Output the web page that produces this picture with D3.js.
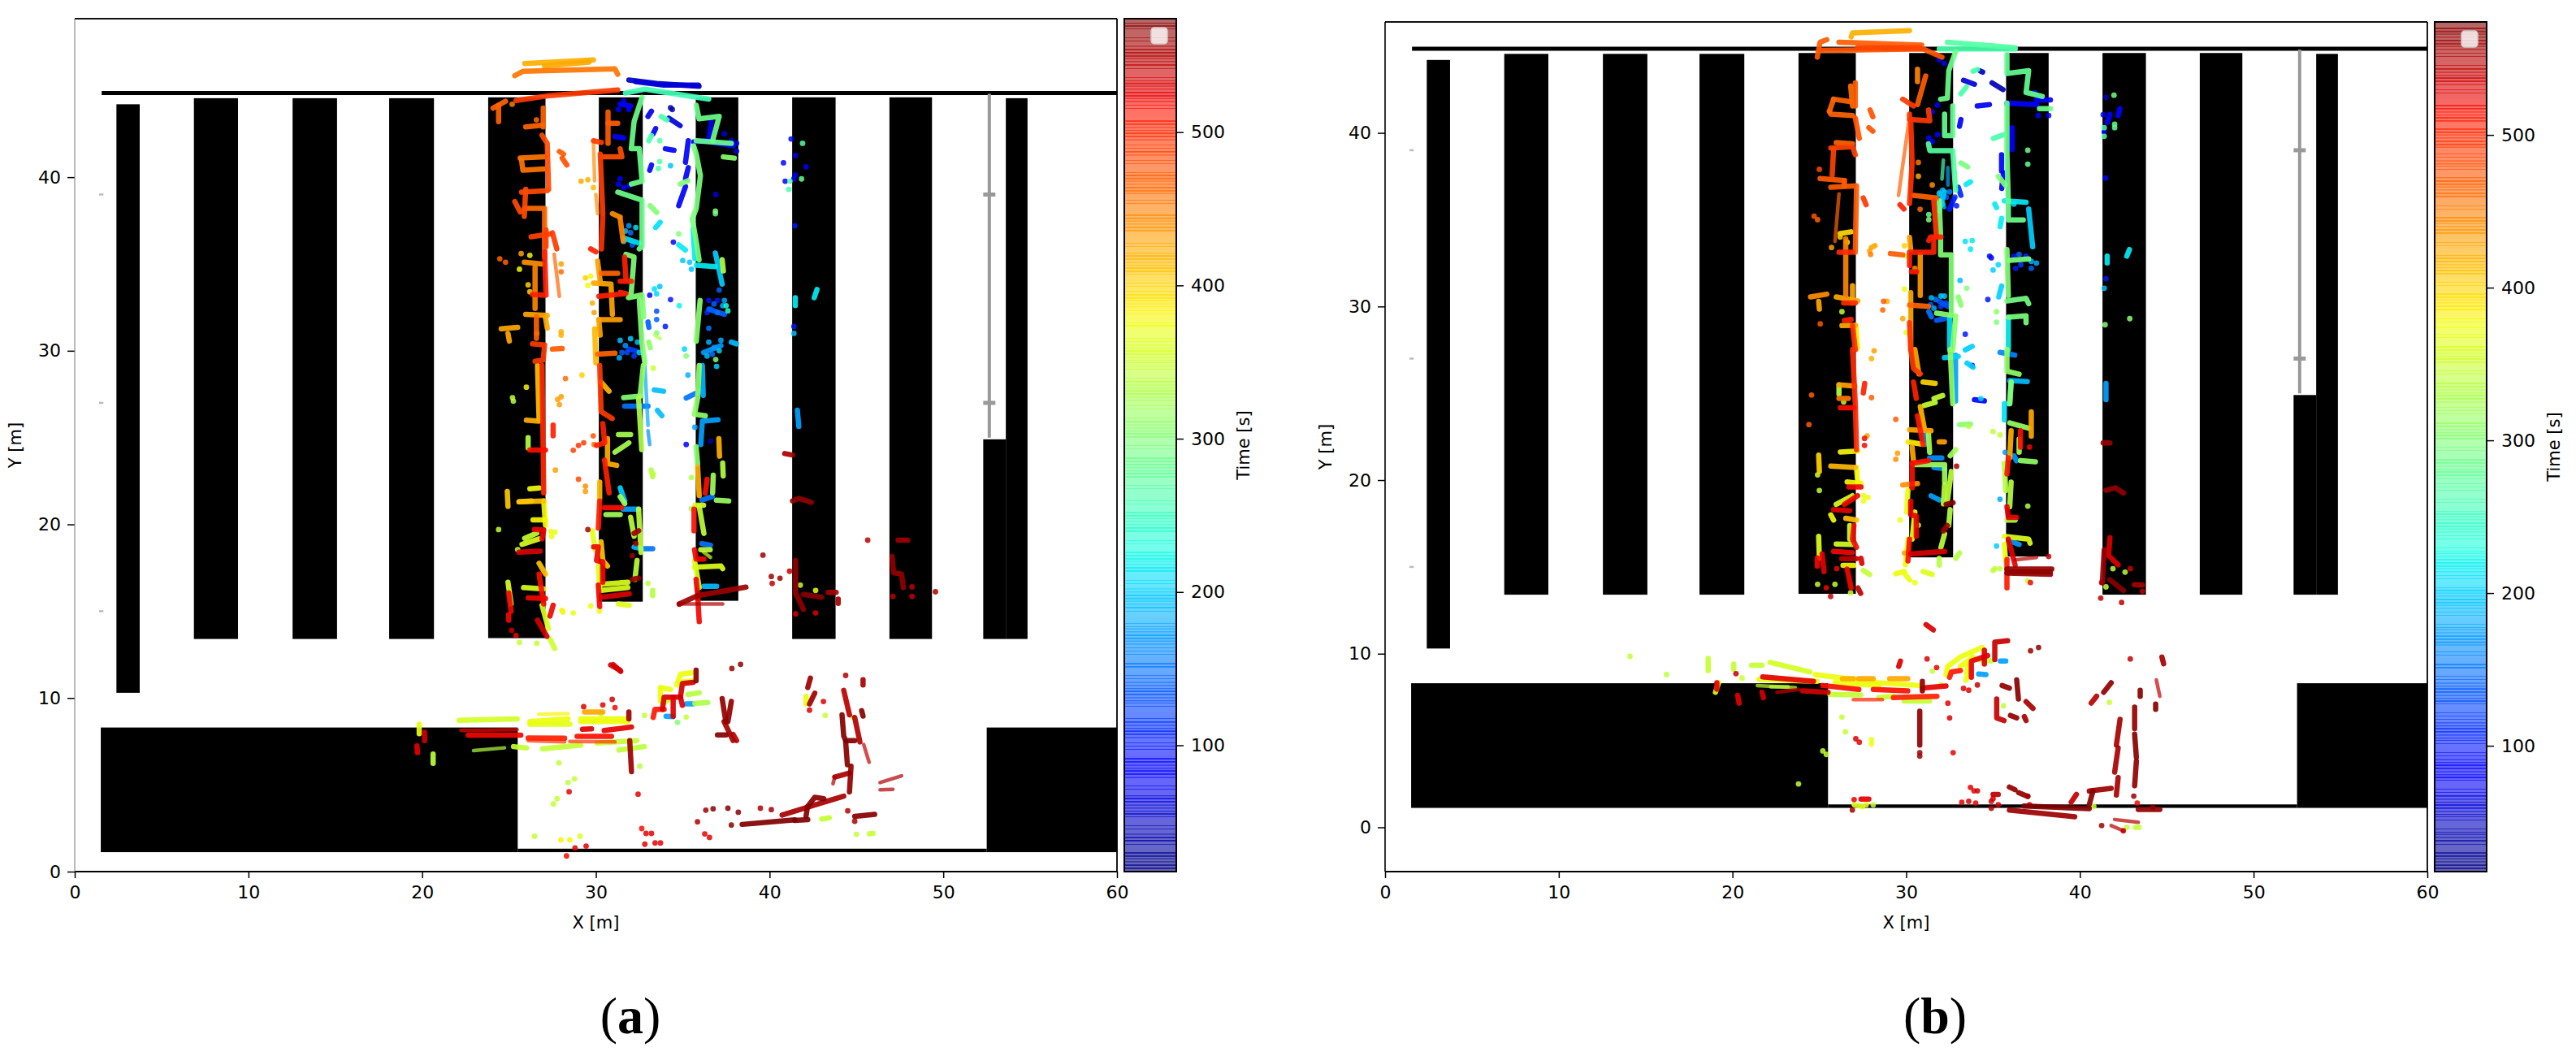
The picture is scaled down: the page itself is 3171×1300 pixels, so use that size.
<!DOCTYPE html>
<html>
<head>
<meta charset="utf-8">
<script src="https://cdn.jsdelivr.net/npm/d3@7"></script>
<style>
  body { margin: 0; background: #fff; }
  text { font-family: "DejaVu Sans", sans-serif; fill: #000; }
</style>
</head>
<body>
<div id="chart"></div>
<script>
(function () {

    const xTicks = [0, 10, 20, 30, 40, 50, 60]
    const yTicks = [0, 10, 20, 30, 40]
    const timeTicks = [100, 200, 300, 400, 500]
    const timeDomain = [17.6, 574]

    // x0, x1, y0, y1 in metres
    const shelves = [
        [2.4, 3.74, 10.3, 44.2], [6.86, 9.4, 13.4, 44.55], [12.54, 15.1, 13.4, 44.55],
        [18.1, 20.68, 13.4, 44.55], [23.8, 27.1, 13.45, 44.6], [30.17, 32.7, 15.55, 44.6],
        [35.75, 38.2, 15.6, 44.6], [41.3, 43.8, 13.4, 44.6], [46.9, 49.35, 13.4, 44.6],
        [53.6, 54.85, 13.4, 44.55], [52.3, 53.6, 13.4, 24.9],
        [1.5, 25.5, 1.12, 8.3], [52.5, 60, 1.12, 8.3], [25.5, 52.5, 1.12, 1.32]
    ]
    const topWall = [1.55, 60, 44.85]
    const poleX = 52.65
    const poleY = [44.8, 39, 27, 25]
    const wallMarks = [39, 27, 15]

    // colorbar line clusters [from, to] in seconds, one line every 2 s
    const barLinesA = [[569, 571], [544, 557], [520, 533], [495, 507], [485, 487], [460, 472], [436, 446], [409, 422], [386, 396], [374, 374], [351, 361], [325, 337], [301, 311], [275, 288], [240, 252], [214, 226], [190, 203], [166, 177], [151, 153], [129, 142], [105, 116], [79, 92], [55, 68], [38, 42], [20, 31]]
    const barLinesB = [[556, 570], [533, 543], [509, 520], [492, 505], [481, 483], [460, 472], [436, 446], [409, 422], [386, 396], [374, 374], [351, 361], [325, 337], [301, 311], [275, 288], [240, 252], [214, 226], [190, 203], [166, 177], [151, 153], [129, 142], [105, 116], [79, 92], [55, 68], [38, 42], [20, 31]]

    // tracks: [time, x1, y1, x2, y2, ...] in metres
    const tracksA = [
        [50, 31.9, 45.6, 33.5, 45.4, 35.94, 45.23], [60, 32.3, 45.5, 33.9, 45.3, 35.9, 45.3],
        [72, 36.64, 43.2, 36.49, 42.1, 35.63, 42.03], [78, 35.32, 42.1, 35.16, 40.86], [78, 35.32, 40.55, 35.16, 39.92], [78, 35.16, 39.46, 34.77, 38.36],
        [70, 33, 43.5, 33.2, 43.8], [60, 34.2, 43.4, 34.85, 42.97], [75, 33.44, 42.8, 33.3, 42.5], [75, 34, 41.64, 34.5, 41.55], [90, 33.2, 40.7, 33.1, 40.4],
        [85, 31.1, 42.34, 31.6, 42.26], [85, 31.4, 44.2, 32, 44.1], [90, 36.2, 42.1, 37.9, 41.8],
        [140, 33, 31.66, 33.05, 31.35], [120, 31.9, 30.1, 32.3, 30], [140, 36.5, 32.4, 37.4, 32.1], [190, 37.8, 30.5, 38.1, 30.4], [170, 36.2, 29.9, 37.2, 30.3],
        [256, 31.7, 44.84, 32.82, 45.07, 36.5, 44.5],
        [285, 32.66, 44.6, 32.2, 43.2, 32.04, 41.64, 32.5, 41.64, 32.66, 39.77, 32.04, 39.6],
        [285, 31.26, 39.14, 32.66, 38.68, 32.66, 36.03, 32.5, 35.87], [300, 31.73, 35.56, 32.2, 35.4, 32.04, 33.37, 31.88, 33.06, 32.66, 33.22, 32.75, 31.97], [300, 32.5, 32.9, 32.66, 30.4, 32.82, 29.3],
        [285, 35.78, 44.14, 35.94, 43.36, 37.1, 43.5, 36.72, 42.1], [285, 37.8, 41.95, 35.78, 42.1], [295, 35.63, 41.8, 35.78, 41.33, 36.02, 40.08, 35.78, 38.2, 35.55, 37.6, 35.78, 36.3, 35.94, 35.24],
        [215, 35.78, 34.93, 36.88, 34.85], [200, 36.88, 35.63, 37.27, 33.84], [305, 36, 32.9, 35.78, 30.56], [215, 35.6, 37, 35.7, 35.3], [210, 31.57, 36.5, 32.5, 36.2],
        [262, 33.76, 43.5, 34.1, 43.3], [262, 33.2, 42.4, 33.05, 42.1], [305, 37.34, 41.17, 37.97, 41.1], [300, 34.85, 39.6, 35.3, 39.8], [300, 33.13, 38.36, 33.5, 37.97], [210, 33.44, 37.1, 33.7, 37.4], [215, 34.77, 36.1, 35.16, 35.8], [310, 33.05, 30.5, 33.13, 30.17], [335, 37.27, 35.24, 37.34, 34.6],
        [215, 41.48, 33.06, 41.48, 32.6], [215, 42.73, 33.53, 42.57, 33.06],
        [175, 41.6, 26.58, 41.68, 25.64], [185, 36.13, 29.15, 36.18, 27.43], [150, 35.2, 27.28, 36, 27.67], [175, 37.03, 26.03, 36.13, 25.95, 36.04, 24.6], [190, 33.36, 27.75, 33.9, 27.67], [190, 33.54, 26.57, 33.8, 26.26],
        [150, 31.66, 26.81, 33, 26.81], [200, 31.4, 22.1, 31.66, 21.35], [175, 31.57, 20.88, 32.46, 20.88], [185, 32.2, 18.7, 32.64, 18.6], [150, 32.64, 18.6, 33.27, 18.6], [190, 36.22, 16.44, 36.95, 16.44], [150, 36.1, 18.9, 36.6, 18.8], [150, 36.1, 21.4, 36.7, 21.6],
        [310, 32.73, 29.15, 32.55, 27.43], [330, 32.46, 27.28, 32.64, 24.31], [300, 31.6, 27.3, 32.6, 27.4], [310, 35.95, 29.15, 35.86, 27.28, 35.68, 26.34, 36.3, 26.26], [305, 35.77, 24.47, 35.86, 23.46], [320, 36.76, 22.83, 36.72, 21.82], [315, 36.94, 21.4, 37.65, 21.35], [335, 37.3, 23.53, 37.33, 22.79], [325, 31.3, 25.17, 32, 25.17], [325, 31.1, 24.16, 31.9, 24.7], [320, 30.58, 20.57, 31.4, 20.57], [320, 31.4, 21.6, 31.66, 21.2], [335, 33.18, 23.14, 33.27, 22.75], [340, 32.46, 20.88, 32.6, 18.39], [340, 32, 20.41, 32.2, 19.32], [340, 32.37, 17.92, 32.25, 16.83], [340, 35.95, 21.04, 36.22, 19.48], [340, 36.04, 18.54, 36.58, 18.54], [335, 33.27, 16.2, 33.27, 15.9], [355, 36.2, 21.1, 35.7, 21.1],
        [335, 26.1, 25, 26.1, 24.4], [345, 25.9, 19.2, 26.6, 19.5],
        [360, 25.75, 18.85, 26.73, 19.17], [360, 25.84, 16.36, 27, 16.28], [360, 24.94, 16.67, 25.12, 15.42], [358, 26.9, 15.34, 27.27, 14], [350, 27.36, 13.4, 27.63, 12.85], [360, 30.3, 16.55, 31.84, 16.67], [360, 30.3, 16.2, 31.84, 16.36], [362, 35.68, 17.53, 37.2, 17.6, 37.3, 17.45], [362, 35.68, 17.92, 35.95, 16.36], [365, 29.8, 19.63, 29.96, 18.54], [365, 30.14, 17.6, 30.22, 16.36], [365, 31.3, 15.42, 31.92, 15.34],
        [375, 26.2, 22.05, 26.73, 22.1], [378, 27, 21.35, 27.1, 19.95], [378, 26.38, 20.26, 27.1, 20.26], [385, 25.6, 21.3, 26.3, 21.35],
        [410, 26.64, 29.15, 26.73, 26.03], [420, 26, 26, 26.73, 25.95], [410, 25.57, 21.3, 27, 21.35], [405, 24.9, 21.9, 24.94, 21.04], [420, 30.67, 24.94, 30.67, 23.5, 31.2, 23.4], [415, 30.22, 22.44, 30.22, 21.5], [405, 30.3, 19, 30.4, 17.92, 30.67, 17.6], [415, 30.3, 28.2, 30.76, 27.67], [420, 37.08, 24.94, 37.12, 23.93], [420, 35.86, 23.3, 35.95, 21.66], [410, 26.73, 17.76, 27.1, 17.14],
        [420, 25.9, 46.55, 29.86, 46.76], [425, 27.05, 46.4, 29.6, 46.63], [425, 25.96, 32.1, 27.2, 32.04], [425, 24.55, 31.27, 25.5, 31.35], [425, 24.94, 31, 25.02, 30.56], [425, 27.1, 31.9, 27.2, 31.3], [415, 29.93, 31.27, 30, 29.3], [430, 30.1, 35.17, 30.25, 34], [425, 29.86, 33.9, 30.87, 33.84, 30.95, 32.1], [430, 30.17, 31.8, 31.4, 31.8], [430, 30.17, 31.8, 30.25, 30.9], [440, 25.88, 35.1, 26.9, 35], [445, 26.5, 34.8, 26.5, 32.44], [445, 31.4, 37.6, 31.57, 36.34], [440, 30.95, 37.9, 31.4, 37.7],
        [455, 25.33, 45.85, 25.8, 46.1, 31.1, 46.24, 31.26, 45.93], [455, 25.64, 41.1, 27.05, 41.17], [455, 25.72, 41, 25.8, 40.4, 27.05, 40.47], [460, 25.88, 38.2, 27.05, 38.2, 27.05, 35.4], [465, 24.08, 43.98, 24.8, 44.37], [465, 24.4, 44.14, 24.4, 43.2], [465, 26.58, 31.97, 26.58, 30.72], [465, 26.97, 43.98, 26.97, 42.9], [465, 25.96, 42.9, 26.97, 43], [465, 30.32, 34.46, 31.26, 34.46], [465, 30.1, 29.8, 31.1, 29.86], [470, 27.9, 41.48, 28.14, 41.33], [475, 28.06, 41.1, 28.33, 40.7], [470, 30.7, 43.75, 30.7, 41.95], [470, 30.7, 43.1, 31.26, 43.1], [470, 27.5, 30.1, 28.06, 30.13],
        [480, 26.9, 42.42, 27.2, 41.95, 27.28, 39.3], [480, 25.72, 39.14, 27.2, 39.22], [480, 25.96, 39.3, 25.88, 37.74], [480, 25.33, 38.6, 25.64, 38], [478, 30.4, 41.17, 31.5, 41.17, 31.4, 41.64], [485, 26.27, 36.57, 27.36, 36.73], [488, 27.13, 36.96, 27.13, 36], [488, 29.86, 42.1, 30.32, 42], [490, 27.5, 36.8, 27.75, 35.87], [490, 25.4, 44.42, 27.2, 44.68, 31.26, 45.02], [488, 30.25, 41.33, 30.4, 37.9], [490, 26.35, 30.4, 27.05, 30.33, 26.97, 29.47, 26.5, 29.4], [490, 30.22, 29.15, 30.3, 26.5, 30.94, 26.1], [495, 30.4, 37.74, 30.32, 35.87], [505, 27.05, 35.7, 27.13, 33.2, 26.35, 33.25], [505, 31.65, 35.4, 31.73, 34.15], [505, 31.4, 34, 32.04, 34], [505, 31.4, 33.37, 31.73, 33.3, 30.17, 33.14], [505, 29.7, 35.87, 30, 35.7], [505, 30.4, 25.8, 30.5, 24.78], [505, 30.04, 24.55, 30.5, 24.7], [505, 27.54, 25.72, 27.54, 25.1], [500, 26.9, 29.15, 27, 21.82], [505, 30.5, 23.7, 30.76, 21.82], [505, 30.22, 21.35, 30.14, 19.79],
        [515, 30.5, 20.96, 31.48, 20.96], [515, 26.2, 24.28, 27.1, 24.28], [515, 36.4, 22.6, 36.3, 21.8], [515, 26.73, 17.14, 27, 15.42], [515, 35.65, 20.88, 35.65, 19.63], [520, 26.46, 19.71, 27, 19.67, 26.9, 19.17], [520, 26.1, 15.77, 27.1, 15.73], [520, 24.98, 16.05, 25.12, 14.99], [520, 24.98, 14.8, 24.98, 14.48], [520, 27.54, 15.34, 27.36, 14.72], [520, 29.87, 18.7, 30.14, 18.7, 30.04, 17.92, 30.4, 17.84, 30.4, 16.67], [520, 30.14, 16.5, 30.22, 15.27], [520, 35.68, 18.54, 35.77, 18, 36.22, 18], [520, 35.77, 16.83, 35.86, 15.9, 35.95, 14.4], [530, 30.3, 15.8, 31.92, 16], [530, 25.57, 18.4, 26.8, 18.46], [535, 26.64, 14.48, 27.18, 13.55], [535, 30.85, 11.9, 31.4, 11.6],
        [560, 34.8, 15.42, 35.86, 15.9, 38.64, 16.39], [565, 32.1, 16.83, 32.46, 16.9], [560, 32.46, 19.63, 32.2, 19.48], [565, 41.5, 17.92, 41.5, 16.05, 41.95, 15.11], [565, 41.32, 21.35, 41.68, 21.5, 42.4, 21.27], [570, 41.95, 15.97, 43, 15.8], [555, 43.38, 16.08, 43.83, 16.08], [555, 43.95, 15.7, 43.95, 15.45], [565, 47.05, 18.15, 47.14, 17.22, 47.6, 17.14, 47.7, 16.36], [560, 47.4, 19.09, 47.95, 19.09], [555, 40.87, 24.08, 41.32, 24],
        // lower aisle
        [355, 22.13, 8.72, 25.47, 8.8], [372, 26.2, 8.64, 28.4, 8.8], [366, 26.2, 8.49, 28.5, 8.49], [372, 29.13, 8.8, 31.74, 8.8], [372, 29.13, 8.64, 31.84, 8.64], [425, 29.34, 9.19, 30.4, 9.19], [368, 19.83, 8.49, 19.83, 7.94],
        [520, 22.65, 7.86, 25.68, 7.86], [535, 20.14, 8.02, 20.14, 7.55], [525, 19.7, 7.24, 19.73, 6.85], [505, 26.1, 7.7, 28.2, 7.68], [515, 28.92, 7.79, 30.9, 7.79], [530, 29.23, 8.2, 29.75, 8.22], [525, 30.48, 8.13, 32.05, 8.33],
        [345, 25.26, 7.2, 26, 7.12], [345, 26.93, 7.08, 29.13, 7.29], [345, 30.07, 7.4, 32.36, 7.55], [340, 31.32, 7, 32.78, 7.2], [340, 20.63, 6.77, 20.63, 6.23],
        [560, 31.95, 7.55, 32.05, 5.76], [560, 31.9, 9.19, 31.9, 8.8], [530, 31, 11.92, 31.43, 11.53], [510, 33.3, 8.88, 33.4, 9.35, 33.93, 9.35], [530, 33.83, 9.35, 33.93, 10.05, 34.87, 10.05, 34.98, 9.58], [530, 34.45, 10.05, 34.45, 8.95], [535, 34.87, 10.05, 34.98, 10.83, 35.6, 10.9], [570, 35.77, 11.6, 35.77, 11],
        [372, 34.66, 10.75, 34.87, 11.37, 35.5, 11.45], [372, 34.8, 10.9, 35.6, 11], [372, 33.72, 10.6, 33.72, 9.83], [372, 33.72, 10.6, 34.3, 10.5], [345, 33.9, 9.7, 34.2, 9.9], [335, 35.3, 10.2, 35.95, 10.3], [330, 35.7, 9.69, 36.44, 9.74], [175, 35.2, 9.66, 35.6, 9.66], [175, 34.04, 8.95, 34.45, 8.93],
        [565, 37.27, 9.97, 37.48, 8.64], [565, 37.8, 9.81, 37.6, 8.64], [555, 37.38, 8.64, 37.9, 7.55], [570, 37, 7.87, 37.5, 7.87], [545, 37.9, 7.9, 38.1, 7.55], [560, 42.6, 10.28, 42.3, 9.66], [560, 42.35, 11.14, 42.2, 10.6], [372, 42.1, 10.1, 42.1, 9.66], [555, 45.38, 11.06, 45.38, 10.75], [570, 45.3, 9.27, 45.38, 8.96],
        [545, 44.27, 10.44, 44.6, 9.03], [574, 44.17, 9.03, 44.27, 7.8, 44.38, 7.55, 44.9, 7.55], [570, 44.38, 7.47, 44.48, 6.15], [550, 44.9, 8.88, 45.2, 7.47], [565, 44.69, 6.07, 44.6, 4.59], [555, 43.75, 5.45, 44.6, 5.68], [555, 44.27, 4.35, 40.72, 3.26], [570, 42.18, 3.73, 42.6, 4.28, 43.12, 4.2], [570, 42.1, 3.2, 42.18, 3.73], [574, 38.42, 2.72, 41.45, 2.98], [574, 41.45, 2.95, 42.2, 3], [345, 43, 3.03, 43.44, 3.1], [570, 44.9, 3.18, 46.05, 3.3]
    ]
    // thin, fainter runs of laser hits
    const thinA = [
        [180, 32.82, 29.15, 33, 25.7], [165, 33, 25.4, 33.1, 24.6], [465, 27.6, 35.56, 27.9, 33.14], [440, 29.86, 42.1, 29.93, 39.8], [440, 30, 39, 30.1, 37.9],
        [550, 34.98, 15.42, 37.3, 15.42], [540, 45.42, 7.32, 45.73, 6.3], [550, 46.36, 5.13, 47.6, 5.52], [550, 46.36, 4.71, 47.1, 4.74], [550, 43.65, 5.06, 43.75, 5.45], [380, 26.7, 9.07, 28.4, 9.1],
        [520, 22.23, 8.13, 25.47, 8.18], [495, 26.1, 7.55, 28.2, 7.47], [495, 28.5, 7.5, 31.1, 7.47], [335, 22.96, 6.97, 24.74, 7.13], [350, 36.2, 18.4, 36.6, 18.1], [330, 33.4, 30.9, 33.7, 30.7]
    ]
    // [time, x, y]
    const dotsA = [
        [40, 34.3, 44], [45, 34.4, 43.9], [60, 37.4, 42.5], [70, 37.8, 42.1], [80, 38.1, 41.95], [70, 38.1, 41.5], [60, 36.9, 39], [90, 33.1, 33.2], [100, 34, 31.4], [140, 37.1, 33.5],
        [270, 33.68, 42.1], [270, 33.68, 40.9], [262, 33.6, 40.5], [195, 34.3, 40.66], [300, 34.77, 36.73], [90, 34.46, 36.26], [195, 35, 35.2], [195, 35.4, 35.1], [195, 35.5, 34.7], [210, 33.37, 33.56], [195, 33.68, 33.7], [205, 33.5, 33.28], [100, 34.3, 32.95], [220, 34.8, 32.6], [130, 33.5, 32.28], [140, 33.5, 31.8], [300, 33.5, 31.03], [300, 35.2, 29.7], [205, 35.1, 30.1], [305, 36.88, 38.05], [280, 36.88, 37.9], [150, 36.5, 31.3], [230, 37.5, 32.6], [240, 37.6, 32.3],
        [90, 41.24, 42.2], [270, 41.9, 41.95], [75, 41.48, 41.25], [90, 40.8, 40.83], [75, 42.1, 40.6], [75, 41.48, 40.13], [75, 41.4, 39.9], [85, 40.9, 39.77], [280, 41.84, 39.9], [270, 41.17, 39.77], [262, 41.1, 39.3], [100, 41.45, 37.2], [100, 41.4, 31.4], [190, 41.4, 31],
        [465, 24.47, 35.3], [465, 24.8, 35.1], [375, 25.6, 34.7], [380, 26.2, 35.5], [400, 26.1, 33.8], [400, 26.2, 33.4], [430, 25.7, 35.6], [440, 26.6, 31], [450, 25.18, 44.2], [460, 26.58, 43.3], [430, 28, 35], [460, 28, 34.55], [425, 29.15, 39.77], [420, 29.54, 39.85], [415, 29.86, 39.4], [400, 29.4, 34.2], [372, 29.54, 33.76], [378, 29.7, 34.3], [420, 29.8, 32.75], [430, 29.9, 32.2], [420, 28, 31.1], [420, 28, 30.9],
        [345, 25.2, 27.3], [380, 26, 27.9], [335, 25.25, 27.1], [460, 28.25, 28.4], [400, 29.2, 28.6], [430, 27.8, 27.2], [430, 28, 27.35], [430, 27.9, 26.9], [430, 27.67, 23.13], [460, 29.9, 24.6], [485, 28.7, 24.27], [495, 29, 24.55], [490, 29.3, 24.7], [475, 29.85, 25.1], [480, 29, 22.6], [440, 29.4, 22.2], [430, 29.4, 21.9], [345, 24.4, 19.7], [370, 27.4, 19.6], [370, 27.65, 19.55], [370, 27.45, 19.3], [555, 29.54, 19.7], [345, 25.5, 18.55], [345, 25.6, 13.2], [345, 26.6, 13.15], [520, 25.4, 13.6], [540, 25.15, 13.9], [380, 28.05, 15.05], [365, 28.1, 14.95], [370, 28.7, 14.9], [370, 29.7, 15.3], [370, 30.2, 15], [340, 33, 16.6], [350, 33.3, 29], [340, 33.3, 22.9], [200, 36.95, 29.1], [185, 35.3, 28.6], [330, 35.5, 22.7], [320, 35.5, 20.9], [85, 35.2, 24.6], [40, 36.6, 24.8], [175, 35.7, 25.6],
        [560, 32.1, 18.2], [550, 32.3, 18.9], [560, 39.62, 18.23], [560, 40.1, 17], [540, 40.15, 16.6], [560, 40.6, 16.9], [540, 41.15, 17.3], [545, 45.65, 19.09], [530, 41.5, 14.85], [530, 42.65, 14.9], [345, 41.77, 16.5], [370, 42.65, 16.2], [555, 49.55, 16.12], [545, 48.2, 16.4], [540, 48.2, 15.85], [545, 47.1, 15.85], [530, 34.8, 15.4],
        [560, 37.83, 11.7], [570, 38.33, 11.94], [535, 30.94, 9.92], [345, 30.3, 9.1], [345, 32.8, 9], [300, 34.7, 8.6], [345, 35.2, 8.9], [530, 29.3, 9.5], [525, 30.4, 9.6], [520, 31.1, 9.45],
        [530, 42.3, 9.3], [345, 43.2, 9], [530, 43.1, 9.8], [550, 44.38, 11.3], [345, 44.8, 8.9],
        [340, 28.4, 5.13], [345, 28.77, 5.34], [525, 28.46, 4.6], [345, 27.56, 3.9], [345, 27.77, 4.2], [340, 27.87, 6.26], [525, 32.43, 4.46], [335, 32.53, 6.07], [378, 27.98, 1.83], [378, 28.5, 1.83], [345, 26.47, 2.04], [360, 29.09, 2.04], [525, 28.8, 1.36], [525, 29.44, 1.47], [520, 28.31, 0.9], [515, 32.64, 2.48], [525, 32.89, 2.2], [525, 33.2, 2.2], [525, 32.82, 1.58], [525, 33.41, 1.65], [525, 33.72, 1.65], [550, 35.85, 2.87], [525, 36.27, 2.17], [525, 36.54, 1.97], [574, 37.6, 3.65], [570, 38.2, 3.42], [550, 39.47, 3.65], [555, 40.1, 3.57], [560, 36.33, 3.54], [570, 36.75, 3.62], [570, 37.8, 2.68], [345, 45, 2.15], [345, 45.75, 2.18], [345, 45.95, 2.2], [545, 44.5, 3.5], [550, 44.9, 2.9],
        // blue and cyan clusters around the inner shelves
        [190, 31.4, 30.6], [170, 31.7, 30.3], [200, 32, 30.7], [140, 31.5, 29.9], [190, 32.4, 30.5], [120, 32.2, 29.7], [185, 31.35, 29.6], [200, 32.5, 29.9], [130, 31.8, 29.9],
        [100, 36.5, 32.9], [140, 36.8, 32.7], [100, 37, 32.9], [185, 37.3, 32.6], [120, 36.6, 32.4], [150, 37, 32.2], [110, 36.4, 32.2], [180, 37.4, 32.9],
        [190, 31.7, 36.9], [150, 32, 36.8], [210, 32.3, 37.1], [170, 31.9, 37.2], [200, 31.6, 36.3], [140, 32.1, 36.1],
        [75, 31.3, 39.6], [85, 31.6, 39.4], [75, 31.9, 39.5], [75, 31.4, 39.9], [75, 31.6, 44.4], [85, 31.9, 43.9], [80, 31.3, 43.9],
        [185, 36.5, 30.5], [160, 36.8, 30.2], [200, 37.1, 30], [150, 36.7, 29.8], [190, 36.4, 29.7], [180, 37.2, 30.6], [300, 36.9, 29.5]
    ]

    const tracksB = [
        [420, 26.83, 45.53, 26.91, 45.76, 30.19, 45.89],
        [470, 24.88, 44.36, 25.04, 45.22, 25.43, 45.37], [475, 25.04, 44.75, 30.97, 44.83, 32.06, 44.36], [470, 26.13, 45.22, 30.89, 45.06], [485, 27.2, 44.9, 30.8, 44.9],
        [262, 31.9, 44.83, 36.27, 44.83], [268, 32.37, 45.22, 36.27, 44.9],
        [285, 32.84, 44.67, 32.45, 43.58, 32.37, 42, 31.98, 41.94], [280, 32.21, 41.08, 32.21, 39.84, 32.68, 39.84, 32.68, 41.55], [270, 31.28, 39.37, 31.36, 38.98, 32.68, 38.98, 32.84, 36.7],
        [300, 31.9, 36.09, 31.98, 34.06, 31.98, 32.97, 32.6, 32.97, 32.6, 30.63, 32.6, 29.7], [305, 31.75, 29.62, 32.84, 29.46, 32.68, 27.51], [210, 32.5, 29.4, 32.5, 27.51],
        [280, 35.8, 44.51, 35.8, 43.42, 37.05, 43.58, 36.9, 42.33, 37.83, 42.1], [285, 35.8, 41.71, 35.8, 38.74, 35.88, 36.09, 35.88, 34.98, 36.74, 34.98], [215, 35.65, 36.09, 36.9, 36], [200, 37.05, 35.62, 37.28, 33.44], [285, 37.67, 41.39, 38.3, 41.39],
        [78, 35.8, 41.71, 37.52, 41.63], [78, 36.1, 40.3, 36.1, 39.05], [80, 37.5, 41.9, 38.3, 41.9], [300, 35.8, 33.28, 35.88, 30.63], [295, 35.96, 32.66, 37.05, 32.74], [290, 35.8, 30.32, 36.9, 30.47, 37.05, 30.16], [295, 35.88, 29.38, 36.9, 29.46, 36.9, 29.07], [220, 35.88, 29.38, 35.88, 27.51],
        [262, 35.02, 39.68, 35.65, 39.91], [80, 35.49, 38.74, 35.49, 37.8], [300, 35.3, 37.5, 35.7, 37], [85, 35.6, 37.7, 35.5, 36.8], [215, 35.1, 35.9, 35.2, 35.7], [215, 35.49, 35.08, 35.41, 34.6], [215, 33.7, 37.18, 33.45, 37.03], [295, 33.15, 38.27, 33.54, 38.04],
        [60, 33.3, 43.03, 33.93, 42.8], [50, 34.24, 43.58, 34.4, 43.5], [45, 34.94, 42.88, 35.57, 42.49], [70, 34.09, 41.55, 34.79, 41.63], [80, 33.15, 40.77, 33.07, 40.38], [262, 33.15, 42.25, 33.46, 42.64], [262, 33.85, 43.55, 34.1, 43.65],
        [110, 33, 36.87, 33.15, 36.4], [140, 31.75, 29.2, 32.2, 29.3], [150, 31.3, 29.7, 31.45, 29.4], [130, 31.9, 30.3, 32.4, 30], [195, 32.2, 36.6, 31.9, 35.5], [100, 32.75, 36.2, 32.5, 35.6],
        [305, 33, 30.55, 33.15, 30.08], [200, 33.4, 27.5, 33.8, 27.7], [200, 35.49, 31.18, 35.33, 30.55],
        [85, 42.3, 41.39, 42.2, 41], [85, 41.73, 41.08, 41.57, 40.6], [215, 41.57, 32.9, 41.57, 32.5], [215, 42.85, 33.28, 42.7, 32.9],
        [470, 27.07, 42.88, 27.07, 41.55], [460, 26.8, 42.7, 26.91, 41.55], [465, 25.82, 41.94, 26.91, 41.78], [465, 25.58, 41.24, 25.66, 41.08, 26.91, 41], [465, 25.82, 41.94, 25.58, 41.24], [475, 27.07, 40.85, 27.3, 39.68],
        [465, 25.97, 39.44, 26.91, 39.37], [485, 25.66, 39.13, 26.91, 39.21, 27.07, 38.74], [485, 25.82, 39.05, 25.74, 37.57], [470, 25.04, 37.37, 26.44, 37.26], [470, 26.44, 37.26, 26.44, 36.95], [470, 25.66, 36.87, 27.14, 36.95, 27.07, 33.13],
        [500, 26.13, 33.13, 26.91, 33.13], [395, 26.2, 34.2, 26.82, 34.3], [445, 26.52, 33.9, 26.52, 30.63], [440, 24.49, 30.55, 25.43, 30.71], [425, 24.96, 30.3, 25, 29.85], [425, 25.97, 30.55, 27.22, 30.32], [500, 26.4, 30.2, 27.07, 30.2], [425, 26.91, 31.2, 26.91, 30.2], [505, 26.44, 29.2, 26.83, 29.25], [425, 26.3, 28.9, 27.07, 28.92], [495, 26.91, 28.92, 27.07, 27.51], [385, 27.1, 28.9, 27.2, 27.6],
        [475, 27.92, 41.32, 28.08, 40.93], [475, 27.85, 40.3, 28.08, 40.1], [490, 27.53, 36.25, 27.69, 35.86], [425, 28, 33.4, 28.2, 33.5], [470, 29.09, 33.05, 29.8, 32.97], [505, 29.64, 35.86, 29.87, 35.62],
        [445, 30.65, 43.66, 30.65, 42.95], [470, 31.12, 43.27, 30.65, 41.63], [490, 29.8, 41.94, 30.42, 41.55], [490, 30.19, 41.08, 30.19, 40.77, 31.36, 40.69, 31.28, 41.32], [495, 30.26, 40.77, 30.34, 38.27, 30.19, 35.93], [465, 30.42, 36.4, 31.74, 36.25], [490, 31.59, 36.1, 31.74, 34.06], [505, 31.3, 33.8, 31.4, 34, 32, 34], [505, 31.59, 33.9, 31.59, 33.13, 30.19, 33.13, 30.19, 32.35], [430, 30.19, 33.98, 30.26, 33.28], [510, 30.3, 32, 30.6, 32], [435, 30.81, 32.97, 30.81, 30.63], [425, 30.26, 30.8, 30.26, 27.6], [465, 30.19, 30.08, 31.28, 30], [495, 30.19, 29.07, 30.26, 27.51],
        // lower part of the shelves
        [500, 26.91, 27.52, 27.07, 24.4, 27.14, 21.75], [515, 26.21, 24.17, 26.99, 24.17], [430, 26.13, 25.49, 27.05, 25.42], [335, 26.13, 25.49, 26.13, 24.95], [455, 26.13, 24.7, 26.67, 24.7],
        [378, 26.21, 21.62, 27.22, 21.67], [415, 25.66, 20.81, 27.07, 20.73], [400, 24.96, 21.44, 25, 20.5], [378, 27.14, 20.73, 27.22, 19.72], [378, 26.6, 19.9, 27.4, 19.8], [520, 26.7, 19.6, 27.4, 19.6], [360, 25.97, 18.6, 26.9, 19.1], [520, 26.44, 18.6, 27.2, 19.1], [525, 25.82, 18.3, 26.75, 18.24], [375, 25.66, 18, 25.82, 17.7], [410, 26.52, 17.8, 27.14, 17.7], [515, 26.99, 17.38, 26.91, 16.6, 27.14, 16.13], [355, 26.75, 17.38, 26.75, 16.6],
        [355, 25.97, 16.32, 26.91, 16.29], [520, 25.82, 15.9, 26.91, 15.82], [362, 24.96, 16.76, 25, 15.51], [520, 24.88, 15.51, 24.88, 15.04], [525, 25.16, 15.74, 25.27, 14.73], [545, 26.29, 15.48, 27.14, 15.48], [378, 26.36, 15.09, 26.99, 15.09], [520, 26.6, 14.88, 26.83, 13.79], [530, 27.4, 15.5, 27.45, 15.2], [545, 27.22, 13.79, 27.38, 13.48], [345, 27.53, 14.8, 27.9, 14.56], [505, 27.61, 25.57, 27.53, 25.02],
        [490, 30.26, 27.52, 30.42, 26.43, 30.81, 26.12], [425, 30.5, 27.52, 30.73, 26.12], [505, 30.42, 25.65, 30.58, 24.71], [400, 30.97, 25.65, 31.67, 25.57], [345, 31.6, 24.7, 32.1, 24.87], [345, 31.04, 24.3, 31.67, 24.48], [415, 30.81, 24.24, 31.04, 23], [510, 30.65, 23.7, 30.97, 22.06], [425, 30.19, 22.9, 31.43, 22.84], [385, 30.1, 22.2, 30.97, 22.06], [425, 30.34, 21.9, 30.42, 21.12], [515, 30.34, 20.97, 31.28, 21.12], [320, 30.5, 20.89, 32.21, 20.89, 32.21, 19.9], [325, 31.28, 22.68, 31.35, 21.6], [170, 31.1, 22.68, 31.1, 22.06], [430, 31.9, 22.2, 32.2, 22.2], [165, 31.35, 21.28, 32.05, 21.28], [165, 31.6, 20.73, 32.21, 20.65],
        [515, 30.34, 20.97, 30.34, 19.56], [440, 29.8, 19.72, 30.65, 19.8], [372, 30.1, 19.41, 30.03, 18.16], [525, 30.26, 18.78, 30.26, 18, 30.58, 17.93, 30.58, 16.76], [372, 30.5, 18.16, 30.34, 16.6], [515, 30.19, 16.6, 30.1, 15.35], [372, 30.11, 16.6, 29.95, 15.12], [530, 30.26, 15.74, 32.21, 15.9],
        [340, 32, 16.13, 32.21, 16.9], [560, 32.14, 17.07, 32.37, 17.38], [570, 32.3, 18.6, 32.7, 18.7], [340, 32.21, 19.72, 32.14, 18.63], [340, 32.6, 20.5, 32.37, 18.8], [175, 31.43, 19.1, 31.9, 18.86], [335, 32.53, 18.3, 32.45, 17.4], [335, 31.9, 15.5, 31.9, 15.1], [335, 32.85, 15.5, 33.07, 15.8], [362, 30.97, 14.73, 31.5, 14.57], [372, 29.4, 14.6, 29.9, 14.74], [372, 29.95, 14.56, 30.2, 14.26],
        [310, 32.53, 27.52, 32.68, 24.4], [175, 32.84, 27.2, 32.84, 24.55], [200, 32.2, 27.05, 33, 27.13], [305, 33.07, 23.2, 33.7, 23.23], [80, 33.93, 24.63, 34.5, 24.56], [200, 33.5, 26.74, 33.85, 26.5], [320, 32.53, 21.4, 32.84, 21.75],
        [310, 35.8, 27.52, 35.8, 26.27, 36.5, 26.1], [160, 35.4, 27.36, 36.25, 27.2], [190, 35.96, 25.73, 36.97, 25.68], [210, 36.04, 25.65, 35.96, 24.4, 35.65, 24.4, 35.65, 23.46], [305, 36.04, 25.65, 35.96, 24.4], [315, 35.96, 23.3, 37.05, 22.99], [425, 37.2, 23.93, 37.2, 22.53], [515, 36.58, 22.84, 36.58, 21.9], [420, 36.04, 22.84, 35.96, 21.28], [320, 36.5, 22.37, 36.5, 21.6], [310, 36.58, 21.12, 37.44, 21.05], [170, 36.2, 21.4, 36.35, 21.12], [510, 35.88, 21.28, 35.8, 20.35],
        [335, 35.65, 20.97, 35.73, 19.4], [335, 36.04, 19.88, 35.96, 18.47], [525, 35.8, 18.47, 35.88, 17.85, 36.35, 17.85], [335, 35.8, 17.7, 36.27, 17.7], [362, 35.65, 16.76, 37.05, 16.6, 37.13, 16.37], [372, 35.65, 16.3, 35.73, 15.35], [525, 35.88, 16.6, 36.27, 15.1], [510, 35.8, 15.43, 35.8, 13.79], [565, 35.8, 14.88, 38.38, 14.88], [565, 35.8, 14.65, 38.3, 14.57], [560, 36.1, 14.72, 38.3, 14.72], [170, 36.1, 16.45, 36.5, 16.29],
        [175, 41.5, 25.57, 41.5, 24.63], [560, 41.34, 22.14, 41.73, 22.14], [565, 41.5, 19.41, 42.04, 19.56, 42.51, 19.25], [530, 41.73, 16.68, 41.65, 15.66, 42.2, 15.12], [560, 41.4, 15.98, 41.29, 14.1], [570, 41.73, 14.26, 42.51, 13.64], [555, 43.13, 13.98, 43.6, 13.95],
        [345, 18.6, 9.73, 18.6, 9.03], [345, 20.07, 9.4, 20.07, 9.1], [345, 21.1, 9.33, 21.7, 9.33], [355, 22.16, 9.5, 24.45, 8.95], [372, 24.77, 8.8, 28.42, 8.33, 30.72, 8.17], [372, 25.9, 8.33, 28.42, 8.17], [365, 21.53, 8.53, 24.87, 8.41], [525, 21.74, 8.67, 24.66, 8.41], [420, 26.33, 8.56, 26.96, 8.56], [425, 27.27, 8.56, 28.1, 8.56], [425, 29.05, 8.56, 30.09, 8.56],
        [515, 25.19, 8.17, 27.27, 7.94], [515, 28.11, 7.94, 30.09, 7.86], [525, 30.93, 8.02, 32.29, 8.14], [565, 30.93, 8.41, 30.93, 7.86], [505, 29.26, 7.47, 30.72, 7.52, 31.77, 7.55], [345, 25.6, 7.66, 27.38, 7.63], [345, 28.42, 7.47, 29.26, 7.55], [345, 29.88, 7.27, 31.35, 7.27], [535, 24.04, 7.86, 25.5, 7.78], [525, 19.1, 8.33, 19.1, 7.95], [365, 19.2, 8.33, 19.02, 7.78], [525, 20.3, 7.6, 20.38, 7.15], [535, 21.7, 7.78, 21.78, 7.47],
        [565, 30.78, 6.69, 30.78, 4.74], [530, 31.14, 11.68, 31.56, 11.37], [530, 29.67, 9.58, 29.57, 9.27], [510, 32.5, 8.64, 32.6, 8.95, 33.12, 9.03], [525, 33.75, 8.64, 33.75, 9.58, 34.69, 9.89], [540, 35.1, 9.66, 35.1, 10.67, 35.84, 10.75], [530, 34.5, 10.2, 34.5, 9.4], [372, 32.29, 8.8, 32.39, 9.27, 33.12, 9.81, 34.38, 10.36], [372, 33.12, 9.27, 33.85, 9.81], [372, 33.45, 8.48, 33.55, 9.42], [340, 34.17, 9.66, 34.9, 9.58], [175, 35.42, 9.58, 35.73, 9.58], [175, 34.17, 8.83, 34.59, 8.8],
        [565, 35.52, 8.17, 35.94, 8.02], [570, 36.36, 8.49, 36.46, 7.39], [540, 35.21, 7.39, 35.21, 6.3, 35.63, 6.15], [565, 36, 6.45, 36.36, 6.3], [555, 36.9, 7.24, 37.3, 6.85], [555, 36.8, 6.38, 36.9, 6.15],
        [545, 40.65, 7.16, 40.96, 7.55], [565, 41.37, 7.78, 41.8, 8.33], [570, 43.47, 7.9, 43.47, 7.55], [555, 44.72, 9.81, 44.82, 9.42], [570, 44.36, 7.1, 44.36, 6.8],
        [555, 42.31, 6.22, 42.1, 4.74], [565, 43.15, 6.93, 43.15, 5.68], [570, 43.15, 5.37, 43.25, 4.04], [565, 43.25, 3.81, 43.15, 2.4], [555, 42.2, 4.58, 42, 3.18], [555, 42.2, 2.87, 42.1, 1.86], [540, 39.8, 1.9, 39.5, 1.45], [570, 40.75, 2.09, 40.54, 1.31], [560, 40.54, 2.09, 41.8, 2.25], [574, 36.78, 1.23, 40.54, 1.08], [560, 35.94, 0.99, 39.7, 0.61], [565, 43.36, 1.03, 44.6, 1.03],
        [565, 35.94, 2.32, 36.26, 2.17], [565, 36.47, 2, 37, 1.78], [545, 35, 1.9, 35.3, 1.9], [360, 27, 1.3, 27.5, 1.2], [525, 27.4, 1.62, 27.85, 1.62]
    ]
    const thinB = [
        [470, 30.19, 40.93, 29.56, 36.4], [465, 26.13, 36.48, 25.9, 33.75], [260, 32.14, 38.43, 32.06, 37.34], [180, 32.4, 38, 32.4, 37], [200, 31.9, 36.6, 32.2, 35.7],
        [545, 36.27, 15.4, 37.5, 15.55], [550, 42, 0.45, 43.36, 0.29], [550, 41.8, 0.1, 42.5, -0.2], [505, 26.96, 7.36, 28.63, 7.36], [345, 21.43, 8.17, 23.62, 8.05], [540, 22.57, 7.78, 23.83, 7.94], [540, 44.4, 8.49, 44.6, 7.55], [340, 22.2, 8.1, 23.2, 8.1]
    ]
    const dotsB = [
        [50, 41.5, 42.05], [290, 41.96, 42.17], [80, 41.34, 41.05], [280, 42, 40.5], [280, 42, 40.3], [80, 41.4, 40.05], [260, 41.4, 40.3], [270, 41.4, 39.8], [90, 41.47, 37.4], [100, 41.5, 31.6], [190, 41.4, 31.05], [305, 42.87, 29.3], [300, 41.45, 28.95],
        [100, 37.4, 42.3], [85, 38.2, 41], [85, 37.6, 41], [290, 37, 39], [280, 37, 38.2], [210, 36.2, 35.9], [80, 34.9, 32.8], [200, 35, 32.1], [205, 35.3, 32.4], [100, 34.7, 30.4], [300, 33.48, 31.05], [190, 33.1, 31.5], [100, 33.4, 28.4], [310, 35.2, 29.7], [300, 35.2, 29.1], [210, 33.4, 33.75], [215, 33.8, 33.8], [215, 33.7, 33.3], [90, 34.8, 32.9],
        [475, 24.7, 35.2], [465, 24.9, 35], [480, 25, 37.9], [400, 26.2, 34], [370, 26.6, 33.7], [430, 25.7, 33.4], [475, 25.05, 29], [345, 26.3, 29.7], [430, 27.9, 33.2], [450, 27.95, 33], [420, 28.9, 30.3], [470, 28.7, 30.3], [465, 28.65, 29.8], [400, 29.9, 33.5], [372, 30, 32.9], [370, 29.9, 31], [360, 30, 28.5], [425, 29.8, 29.3], [455, 30.7, 38.3], [425, 30.7, 37.5], [440, 31.5, 37], [300, 31.3, 35], [280, 31.3, 35.3], [460, 30.8, 35.6], [440, 30.5, 32.2],
        [430, 28.15, 27.45], [420, 28, 27], [470, 28, 24.75], [470, 29.4, 23.5], [430, 29.5, 21.55], [440, 29.4, 21.2], [372, 27.55, 19.1], [372, 27.8, 19], [372, 27.55, 18.8], [430, 27.75, 22.55], [520, 27.6, 22.4], [520, 27.6, 22], [470, 24.55, 24.9], [470, 24.4, 23.2], [360, 24.9, 20.3], [340, 25, 19.4], [340, 26.4, 24.5], [345, 24.9, 14], [345, 25.9, 14], [345, 26.8, 13.5], [520, 25.4, 13.8], [520, 26, 14.9], [372, 29.65, 17.7], [430, 29.9, 15.8], [540, 25.65, 13.3], [372, 30.5, 14.1], [340, 30.7, 17.4], [340, 35, 22.8], [345, 35.4, 22.6], [340, 35.1, 14.9], [345, 35.4, 14.9], [340, 35, 14.8], [200, 35.2, 16.2], [180, 35.4, 18.9], [170, 35.7, 21.6], [345, 37, 14.2], [330, 37, 18.5], [520, 37.15, 14.1], [540, 38.2, 15.6], [80, 33.8, 26.6], [205, 34.3, 24.7], [335, 33.6, 23.1], [555, 32.9, 20.8], [520, 37.1, 21.9],
        [550, 41.25, 14.1], [545, 41.2, 13.2], [345, 41.5, 13.85], [340, 41.9, 14.9], [545, 42.4, 12.95], [535, 42.9, 14.9], [335, 42.6, 14.7], [545, 43.6, 13.6],
        [345, 14.1, 9.85], [340, 16.2, 8.8], [540, 20.2, 8.85], [350, 20.55, 8.6], [530, 31.2, 9.7], [345, 31.5, 9], [345, 32, 8.2], [525, 31.75, 9.2], [540, 34.1, 8.2], [560, 37.16, 10.17], [570, 37.62, 10.36], [340, 35.6, 7], [530, 33.3, 8], [525, 33.6, 7.9],
        [525, 32.4, 7.15], [530, 32.5, 6.3], [525, 32.7, 4.3], [525, 27.3, 4.9], [530, 27.1, 5.1], [345, 26.3, 6.35], [345, 26.5, 5.5], [372, 28, 4.8], [372, 28, 5.05], [345, 25.2, 4.4], [345, 25.4, 4.2], [340, 23.8, 2.5], [560, 30.78, 4.3], [560, 30.78, 4.1], [520, 43.3, 1.4], [520, 37, 1.8], [525, 33.7, 2.3], [525, 33.9, 2.1], [535, 34.1, 2.1], [530, 35, 1.65], [530, 34.9, 1.5], [525, 33.2, 1.44], [530, 33.6, 1.5], [525, 34, 1.4], [525, 37.1, 1.3], [530, 35.3, 1.3], [550, 34.9, 1.1],
        [372, 27.7, 1.3], [345, 28.1, 1.3], [555, 26.9, 1], [525, 27, 1.6], [345, 40.6, 1.25], [345, 40.8, 1.2], [345, 43.2, 0], [345, 43.4, 0], [345, 42.7, 0], [530, 42.5, -0.2], [560, 41.25, 0.1], [565, 44.2, 1.15], [560, 43.1, 1.8], [540, 42.9, 9.7], [345, 41.7, 7.2],
        // blue and cyan clusters around the inner shelves
        [190, 31.45, 30.5], [150, 31.7, 30.4], [200, 32, 30.6], [130, 32.3, 30.2], [180, 31.6, 29.9], [140, 31.4, 30.1], [195, 32.2, 30.6], [120, 32, 30],
        [100, 36.2, 32.9], [140, 36.5, 33], [110, 36.9, 32.9], [185, 37.2, 32.6], [120, 36.6, 32.4], [100, 36.3, 32.2], [180, 37.5, 32.5], [140, 37.2, 32.2],
        [190, 31.9, 36.5], [140, 32.3, 36.3], [200, 32.1, 35.9], [110, 32.8, 36.3], [190, 32.1, 36.7], [160, 32.5, 36.6], [100, 32.9, 35.8], [75, 31.5, 41.2], [85, 31.8, 41.6], [75, 31.9, 44.2], [85, 32.2, 44], [80, 31.3, 39.7], [75, 31.5, 39.5], [80, 31.8, 39.9]
    ]

    const jetR = d3.scaleLinear().domain([0, .35, .66, .89, 1]).range([0, 0, 1, 1, .5]).clamp(true)
    const jetG = d3.scaleLinear().domain([0, .125, .375, .64, .91, 1]).range([0, 0, 1, 1, 0, 0]).clamp(true)
    const jetB = d3.scaleLinear().domain([0, .11, .34, .65, 1]).range([.5, 1, 1, 0, 0]).clamp(true)
    const timeFrac = d3.scaleLinear().domain(timeDomain).range([0, 1])
    const jet = t => {
        const f = timeFrac(t)
        return d3.rgb(jetR(f) * 255, jetG(f) * 255, jetB(f) * 255).formatHex()
    }

    const pairs = r => d3.range(1, r.length, 2).map(i => [r[i], r[i + 1]])

    const svg = d3.select("#chart").append("svg")
        .attr("width", 3171)
        .attr("height", 1300)
        .style("display", "block")

    function drawPanel(cfg) {
        const x = d3.scaleLinear().domain([0, 60]).range([cfg.left, cfg.right])
        const y = d3.scaleLinear().domain(cfg.yDomain).range([1073, cfg.top])
        const g = svg.append("g")

        g.append("g").selectAll("rect").data(shelves).enter().append("rect")
            .attr("x", d => x(d[0]))
            .attr("y", d => y(d[3]))
            .attr("width", d => x(d[1]) - x(d[0]))
            .attr("height", d => y(d[2]) - y(d[3]))
            .attr("fill", "#000")

        g.append("line")
            .attr("x1", x(topWall[0])).attr("x2", x(topWall[1]))
            .attr("y1", y(topWall[2])).attr("y2", y(topWall[2]))
            .attr("stroke", "#000").attr("stroke-width", 5)

        g.append("line")
            .attr("x1", x(poleX)).attr("x2", x(poleX))
            .attr("y1", y(poleY[0])).attr("y2", y(poleY[3]))
            .attr("stroke", "#999").attr("stroke-width", 4)
        g.selectAll(".pm").data(poleY.slice(1, 3)).enter().append("line")
            .attr("class", "pm")
            .attr("x1", x(poleX - .35)).attr("x2", x(poleX + .35))
            .attr("y1", d => y(d)).attr("y2", d => y(d))
            .attr("stroke", "#999").attr("stroke-width", 5)
        g.selectAll(".wm").data(wallMarks).enter().append("line")
            .attr("class", "wm")
            .attr("x1", x(1.4)).attr("x2", x(1.65))
            .attr("y1", d => y(d)).attr("y2", d => y(d))
            .attr("stroke", "#bbb").attr("stroke-width", 2.5)

        const line = d3.line().x(d => x(d[0])).y(d => y(d[1]))

        // points and tracks painted in time order, later hits on top
        const marks = [
            ...cfg.thin.map(r => ({ t: r[0], thin: true, r })),
            ...cfg.tracks.map(r => ({ t: r[0], thin: false, r })),
            ...cfg.dots.map(r => ({ t: r[0], dot: true, r }))
        ].sort((a, b) => a.t - b.t)

        const layer = g.append("g")
            .attr("fill", "none")
            .attr("stroke-linecap", "round")
            .attr("stroke-linejoin", "round")
        marks.forEach(m => {
            if (m.dot) {
                layer.append("circle")
                    .attr("cx", x(m.r[1]))
                    .attr("cy", y(m.r[2]))
                    .attr("r", 3.4)
                    .attr("fill", jet(m.t))
                    .attr("fill-opacity", .85)
            } else {
                layer.append("path")
                    .attr("d", line(pairs(m.r)))
                    .attr("stroke", jet(m.t))
                    .attr("stroke-width", m.thin ? 4.5 : 6.5)
                    .attr("stroke-opacity", m.thin ? .7 : .92)
            }
        })

        // axes
        const xAxis = g.append("g")
            .attr("transform", `translate(0,1073)`)
            .call(d3.axisBottom(x).tickValues(xTicks).tickSize(8).tickPadding(9).tickSizeOuter(0))
        const yAxis = g.append("g")
            .attr("transform", `translate(${cfg.left},0)`)
            .call(d3.axisLeft(y).tickValues(yTicks).tickSize(9).tickPadding(8).tickSizeOuter(0))
        ;[xAxis, yAxis].forEach(a => {
            a.selectAll("path").remove()
            a.selectAll("line").attr("stroke", "#000").attr("stroke-width", 1.5)
            a.selectAll("text").attr("font-size", 22).attr("font-family", "DejaVu Sans")
        })

        // spines
        const spines = [
            [cfg.left, cfg.top, cfg.right, cfg.top, 1.8, "#111"],
            [cfg.right, cfg.top, cfg.right, 1073, 1.8, "#000"],
            [cfg.left, 1073, cfg.right, 1073, 2.2, "#000"],
            [cfg.left, cfg.top, cfg.left, 1073, cfg.leftSpine, cfg.leftSpine < 1.2 ? "#777" : "#000"]
        ]
        g.selectAll(".spine").data(spines).enter().append("line")
            .attr("class", "spine")
            .attr("x1", d => d[0]).attr("y1", d => d[1])
            .attr("x2", d => d[2]).attr("y2", d => d[3])
            .attr("stroke-width", d => d[4]).attr("stroke", d => d[5])

        g.append("text")
            .attr("x", (cfg.left + cfg.right) / 2)
            .attr("y", 1143)
            .attr("text-anchor", "middle")
            .attr("font-size", 21)
            .text("X [m]")
        g.append("text")
            .attr("transform", `translate(${cfg.left - 66},${(cfg.top + 1073) / 2}) rotate(-90)`)
            .attr("text-anchor", "middle")
            .attr("font-size", 21)
            .text("Y [m]")

        // colorbar
        const barY = d3.scaleLinear().domain(timeDomain).range([1073, cfg.top])
        const bar = g.append("g")
        const steps = d3.range(timeDomain[0], timeDomain[1], 2)
        bar.selectAll("rect").data(steps).enter().append("rect")
            .attr("x", cfg.barLeft)
            .attr("width", cfg.barRight - cfg.barLeft)
            .attr("y", d => barY(Math.min(d + 2, timeDomain[1])))
            .attr("height", d => barY(d) - barY(Math.min(d + 2, timeDomain[1])) + .5)
            .attr("fill", d => jet(d))
            .attr("fill-opacity", .6)
            .attr("shape-rendering", "crispEdges")
        const barLines = cfg.barLines.flatMap(c => d3.range(c[0], c[1] + .1, 2))
        bar.selectAll("line").data(barLines).enter().append("line")
            .attr("x1", cfg.barLeft).attr("x2", cfg.barRight)
            .attr("y1", d => barY(d)).attr("y2", d => barY(d))
            .attr("stroke", d => jet(d))
            .attr("stroke-opacity", .75)
            .attr("stroke-width", 1)
        bar.append("rect")
            .attr("x", cfg.barRight - 31).attr("y", cfg.top + 11)
            .attr("width", 20).attr("height", 20).attr("rx", 4)
            .attr("fill", "#fff").attr("fill-opacity", .8)
            .attr("stroke", "#ccc").attr("stroke-width", 1.5)
        bar.append("rect")
            .attr("x", cfg.barLeft).attr("y", cfg.top)
            .attr("width", cfg.barRight - cfg.barLeft).attr("height", 1073 - cfg.top)
            .attr("fill", "none").attr("stroke", "#000").attr("stroke-width", 2)
        const barAxis = g.append("g")
            .attr("transform", `translate(${cfg.barRight},0)`)
            .call(d3.axisRight(barY).tickValues(timeTicks).tickSize(9).tickPadding(9).tickSizeOuter(0))
        barAxis.selectAll("path").remove()
        barAxis.selectAll("line").attr("stroke", "#000").attr("stroke-width", 1.5)
        barAxis.selectAll("text").attr("font-size", 22).attr("font-family", "DejaVu Sans")
        g.append("text")
            .attr("transform", `translate(${cfg.barRight + 90},${(cfg.top + 1073) / 2}) rotate(-90)`)
            .attr("text-anchor", "middle")
            .attr("font-size", 21)
            .text("Time [s]")

        const cap = g.append("text")
            .attr("x", cfg.captionX)
            .attr("y", 1272)
            .attr("text-anchor", "middle")
            .attr("font-size", 64)
            .style("font-family", "Liberation Serif")
        cap.append("tspan").text("(")
        cap.append("tspan").attr("font-weight", "bold").text(cfg.caption)
        cap.append("tspan").text(")")
    }

    drawPanel({
        left: 92, right: 1375, top: 23, yDomain: [0, 49.13], leftSpine: 1,
        barLeft: 1384, barRight: 1448, barLines: barLinesA,
        tracks: tracksA, thin: thinA, dots: dotsA, caption: "a", captionX: 776
    })
    drawPanel({
        left: 1705, right: 2988, top: 27, yDomain: [-2.55, 46.39], leftSpine: 1.6,
        barLeft: 2997, barRight: 3061, barLines: barLinesB,
        tracks: tracksB, thin: thinB, dots: dotsB, caption: "b", captionX: 2382
    })
})()
</script>
</body>
</html>
